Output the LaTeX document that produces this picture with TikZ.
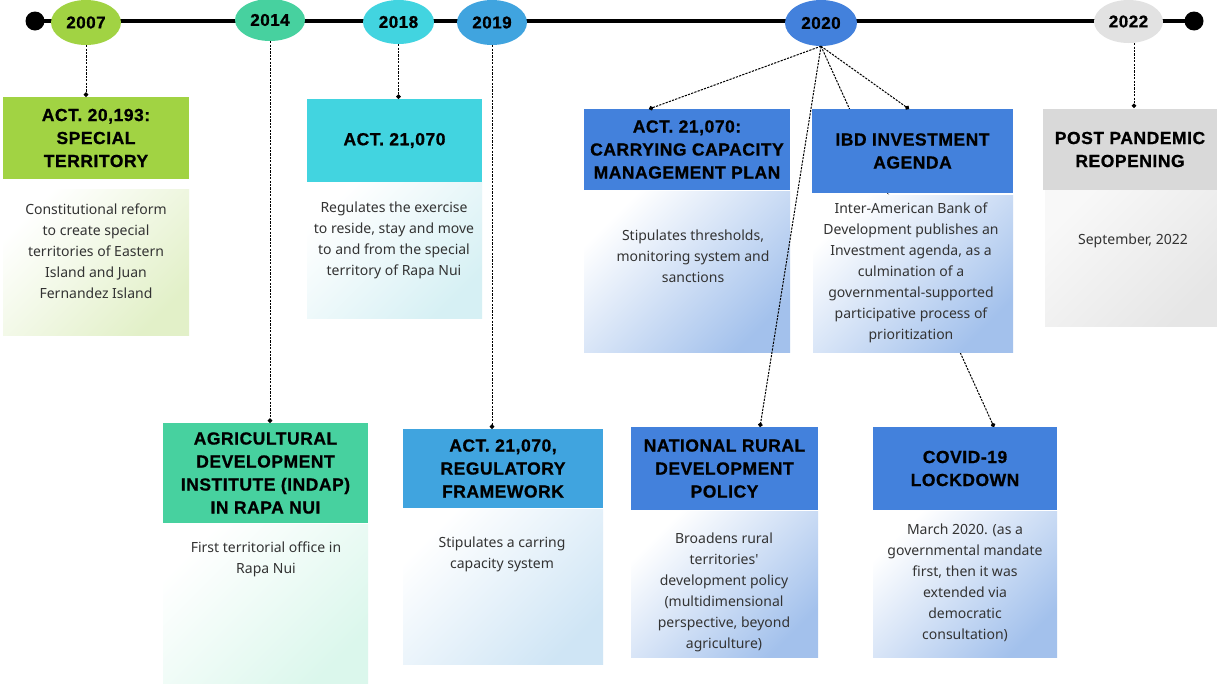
\documentclass[tikz,border=0pt]{standalone}
\usepackage{fontspec}
\setmainfont{Noto Sans}[Ligatures=TeXOff]
\newfontfamily\headfont{Liberation Sans}[LetterSpace=3, BoldFeatures={FakeBold=0.8}]
\usetikzlibrary{shapes.geometric,arrows.meta}
\definecolor{cgA}{HTML}{A1D343}
\definecolor{cgB}{HTML}{47D19F}
\definecolor{ccA}{HTML}{42D4E0}
\definecolor{cbA}{HTML}{40A4DF}
\definecolor{cbB}{HTML}{4381DC}
\definecolor{cgrey}{HTML}{D9D9D9}
\definecolor{cgreyE}{HTML}{E2E2E2}
\definecolor{lgA}{HTML}{E2F0C8}
\definecolor{lgB}{HTML}{DBF7EC}
\definecolor{lcA}{HTML}{D6F0F4}
\definecolor{lbA}{HTML}{CFE5F5}
\definecolor{lbB}{HTML}{A3C1EC}
\definecolor{lgrey}{HTML}{E6E6E6}
\definecolor{lgreytop}{HTML}{F8F8F8}
\definecolor{bodytext}{HTML}{333333}
\begin{document}
\begin{tikzpicture}[x=1pt,y=-1pt,
  year/.style={ellipse, inner sep=0, fill=#1, font=\headfont\bfseries\fontsize{17}{19}\selectfont, text=black},
  head/.style={rectangle, inner sep=0, fill=#1, align=center, font=\headfont\bfseries\fontsize{17.5}{23}\selectfont, text=black},
  body/.style={rectangle, inner sep=0, top color=white, bottom color=#1, shading angle=45},
  txt/.style={align=center, inner sep=0, font=\fontsize{14}{21}\selectfont, text=bodytext},
  conn/.style={line width=1pt, dash pattern=on 2.2pt off 1.2pt},
  dotend/.style={-{Circle[length=4.5pt]}},
  enddot/.style={circle, fill=black, inner sep=0, minimum size=19pt}
]
\fill[white] (0,0) rectangle (1217,683);
\useasboundingbox (0,0) rectangle (1217,683);

% timeline
\node[enddot] (ldot) at (35,21) {};
\node[enddot] (rdot) at (1194,21) {};
\draw[line width=4.5pt] (ldot.center) -- (rdot.center);

% year ellipses
\node[year=cgA, minimum width=70pt, minimum height=45pt] (y2007) at (86,22.5) {2007};
\node[year=cgB, minimum width=70pt, minimum height=42pt] (y2014) at (270,20) {2014};
\node[year=ccA, minimum width=71pt, minimum height=44pt] (y2018) at (398.5,22) {2018};
\node[year=cbA, minimum width=70pt, minimum height=45pt] (y2019) at (492,22.5) {2019};
\node[year=cbB, minimum width=72pt, minimum height=46pt] (y2020) at (821,23) {2020};
\node[year=cgreyE, minimum width=69pt, minimum height=43pt] (y2022) at (1128.5,21.5) {2022};

% connector end points
\coordinate (eccmp) at (649,109);
\coordinate (eibd) at (909,109);
\coordinate (enat) at (760,427);
\coordinate (ecov) at (994,427);
\coordinate (e2022) at (1134,108);

% line running behind the IBD box
\draw[conn,dotend] (y2020.south) -- (ecov);

% 2007
\node[head=cgA, minimum width=186pt, minimum height=82pt] (h2007) at (96,138) {ACT. 20,193:\\SPECIAL\\TERRITORY};
\node[body=lgA, minimum width=186pt, minimum height=146pt] (b2007) at (96,262) {};
\node[txt] (t2007) at (96,251) {Constitutional reform\\to create special\\territories of Eastern\\Island and Juan\\Fernandez Island};

% 2018
\node[head=ccA, minimum width=175pt, minimum height=83pt] (h2018) at (394.5,140.5) {ACT. 21,070};
\node[body=lcA, minimum width=175pt, minimum height=136pt] (b2018) at (394.5,250) {};
\node[txt] (t2018) at (394,240) {Regulates the exercise\\to reside, stay and move\\to and from the special\\territory of Rapa Nui};

% 2014
\node[head=cgB, minimum width=205pt, minimum height=100pt] (h2014) at (265.5,473) {AGRICULTURAL\\DEVELOPMENT\\INSTITUTE (INDAP)\\IN RAPA NUI};
\node[body=lgB, minimum width=205pt, minimum height=159pt] (b2014) at (265.5,603.5) {};
\node[txt] (t2014) at (266,559) {First territorial office in\\Rapa Nui};

% 2019
\node[head=cbA, minimum width=200pt, minimum height=79pt] (h2019) at (503,468.5) {ACT. 21,070,\\REGULATORY\\FRAMEWORK};
\node[body=lbA, minimum width=200pt, minimum height=155pt] (b2019) at (503,586.5) {};
\node[txt] (t2019) at (502,554) {Stipulates a carring\\capacity system};

% 2020 carrying capacity
\node[head=cbB, minimum width=206pt, minimum height=81pt] (hccmp) at (687,149.5) {ACT. 21,070:\\CARRYING CAPACITY\\MANAGEMENT PLAN};
\node[body=lbB, minimum width=206pt, minimum height=161pt] (bccmp) at (687,271.5) {};
\node[txt] (tccmp) at (693,256) {Stipulates thresholds,\\monitoring system and\\sanctions};

% 2020 IBD
\node[head=cbB, minimum width=201pt, minimum height=84pt] (hibd) at (912.5,151) {IBD INVESTMENT\\AGENDA};
\node[body=lbB, minimum width=200pt, minimum height=157pt] (bibd) at (913,273.5) {};
\node[txt] (tibd) at (911,273) {Inter-American Bank of\\Development publishes an\\Investment agenda, as a\\culmination of a\\governmental-supported\\participative process of\\prioritization};

% 2020 national rural
\node[head=cbB, minimum width=187pt, minimum height=83pt] (hnat) at (724.5,468.5) {NATIONAL RURAL\\DEVELOPMENT\\POLICY};
\node[body=lbB, minimum width=187pt, minimum height=146pt] (bnat) at (724.5,584) {};
\node[txt] (tnat) at (724,592) {Broadens rural\\territories'\\development policy\\(multidimensional\\perspective, beyond\\agriculture)};

% 2020 covid
\node[head=cbB, minimum width=184pt, minimum height=83pt] (hcov) at (965,468.5) {COVID-19\\LOCKDOWN};
\node[body=lbB, minimum width=184pt, minimum height=146pt] (bcov) at (965,584) {};
\node[txt] (tcov) at (965,583) {March 2020. (as a\\governmental mandate\\first, then it was\\extended via\\democratic\\consultation)};

% 2022
\node[head=cgrey, minimum width=174pt, minimum height=81pt] (h2022) at (1130,149.5) {POST PANDEMIC\\REOPENING};
\node[rectangle, inner sep=0, top color=lgreytop, bottom color=lgrey, shading angle=45, minimum width=172pt, minimum height=136pt] (b2022) at (1131,258) {};
\node[txt] (t2022) at (1133,241) {September, 2022};

% connectors
\draw[conn,dotend] (y2007.south) -- (y2007.south |- h2007.north);
\draw[conn,dotend] (y2014.south) -- (y2014.south |- h2014.north);
\draw[conn,dotend] (y2018.south) -- (y2018.south |- h2018.north);
\draw[conn,dotend] (y2019.south) -- (y2019.south |- h2019.north);
\draw[conn,dotend] (y2022.south -| e2022) -- (e2022);
\draw[conn,dotend] (y2020.south) -- (eccmp);
\draw[conn,dotend] (y2020.south) -- (eibd);
\draw[conn,dotend] (y2020.south) -- (enat);
\end{tikzpicture}
\end{document}
